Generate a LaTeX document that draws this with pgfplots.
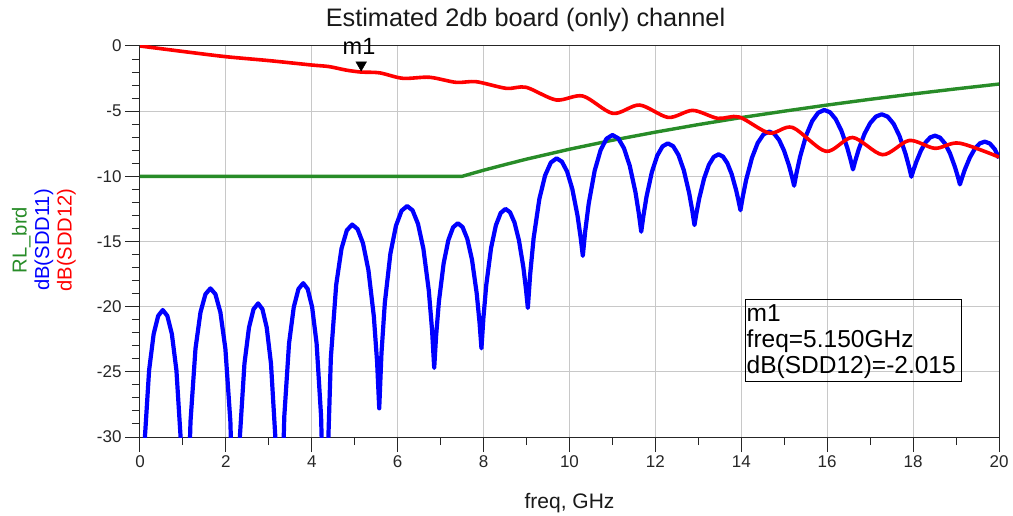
\documentclass[border=0pt]{standalone}
\usepackage{fontspec}
\setmainfont{Liberation Sans}
\usepackage{pgfplots}
\pgfplotsset{compat=1.18}
\definecolor{adsgreen}{RGB}{40,140,40}
\definecolor{gridgray}{RGB}{200,200,200}
\begin{document}
\begin{tikzpicture}
\path[use as bounding box] (-140pt,-78pt) rectangle (873pt,437pt);
\begin{axis}[
  at={(0pt,0pt)}, anchor=south west,
  scale only axis, width=859pt, height=391pt,
  xmin=0, xmax=20, ymin=-30, ymax=0,
  xtick={0,2,...,20}, ytick={-30,-25,...,0},
  minor x tick num=1, minor y tick num=4,
  tick pos=left, tick align=outside,
  major tick length=15pt, minor tick length=8pt,
  grid=major, major grid style={gridgray, line width=1pt},
  axis line style={line width=1pt, black!85},
  every tick/.style={black!85, line width=1pt},
  ticklabel style={font=\fontsize{17}{17}\selectfont, text=black!85},
  /pgf/number format/assume math mode=true,
]
\addplot[adsgreen, line width=3.4pt] coordinates {
(0,-10) (7.5,-10) (8,-9.53) (8.5,-9.10) (9,-8.68) (10,-7.92) (11,-7.23) (12,-6.61) (13,-6.03) (14,-5.49) (15,-5.0) (16,-4.53) (17,-4.09) (18,-3.68) (19,-3.29) (20,-2.92)};
\addplot[blue, line width=4.2pt, line join=round] coordinates {
(0,-45) (0.042,-38.3) (0.106,-30.46) (0.212,-24.88) (0.318,-22.10) (0.424,-20.70) (0.53,-20.26) (0.636,-20.70) (0.742,-22.10) (0.848,-24.88) (0.954,-30.46) (1.018,-38.3) (1.06,-45)
(1.106,-36.64) (1.176,-28.8) (1.292,-23.22) (1.408,-20.44) (1.524,-19.04) (1.64,-18.6) (1.756,-19.04) (1.872,-20.44) (1.988,-23.22) (2.104,-28.8) (2.174,-36.64) (2.22,-45)
(2.262,-37.79) (2.326,-29.95) (2.432,-24.37) (2.538,-21.59) (2.644,-20.19) (2.75,-19.75) (2.85,-20.19) (2.95,-21.59) (3.05,-24.37) (3.15,-29.95) (3.21,-37.79) (3.25,-45)
(3.294,-36.24) (3.36,-28.4) (3.47,-22.82) (3.58,-20.04) (3.69,-18.64) (3.80,-18.2) (3.904,-18.64) (4.008,-20.04) (4.112,-22.82) (4.216,-28.4) (4.278,-36.24) (4.32,-45)
(4.37,-31.74) (4.444,-23.9) (4.568,-18.32) (4.692,-15.54) (4.816,-14.14) (4.94,-13.7) (5.066,-14.05) (5.192,-15.14) (5.318,-17.19) (5.444,-20.73) (5.52,-24.22) (5.57,-27.8)
(5.622,-23.59) (5.70,-19.72) (5.83,-15.93) (5.96,-13.79) (6.09,-12.64) (6.22,-12.28) (6.346,-12.61) (6.472,-13.64) (6.598,-15.55) (6.724,-18.76) (6.80,-21.79) (6.85,-24.7)
(6.894,-22.26) (6.96,-19.59) (7.07,-16.67) (7.18,-14.89) (7.29,-13.91) (7.40,-13.6) (7.51,-13.89) (7.62,-14.79) (7.73,-16.40) (7.84,-18.99) (7.906,-21.24) (7.95,-23.2)
(7.995,-20.89) (8.062,-18.34) (8.174,-15.50) (8.286,-13.76) (8.398,-12.81) (8.51,-12.5) (8.614,-12.75) (8.718,-13.53) (8.822,-14.89) (8.926,-16.98) (8.988,-18.70) (9.03,-20.1)
(9.084,-17.53) (9.164,-14.76) (9.298,-11.74) (9.432,-9.93) (9.566,-8.94) (9.70,-8.62) (9.822,-8.87) (9.944,-9.63) (10.066,-10.98) (10.188,-13.04) (10.261,-14.73) (10.31,-16.1)
(10.365,-14.24) (10.448,-12.08) (10.586,-9.57) (10.724,-7.99) (10.862,-7.11) (11.0,-6.83) (11.134,-7.08) (11.268,-7.84) (11.402,-9.18) (11.536,-11.22) (11.616,-12.89) (11.67,-14.25)
(11.72,-13.05) (11.794,-11.55) (11.918,-9.67) (12.042,-8.42) (12.166,-7.70) (12.29,-7.47) (12.414,-7.69) (12.538,-8.37) (12.662,-9.54) (12.786,-11.28) (12.86,-12.66) (12.91,-13.74)
(12.955,-12.84) (13.022,-11.67) (13.134,-10.16) (13.246,-9.12) (13.358,-8.51) (13.47,-8.31) (13.572,-8.48) (13.674,-8.98) (13.776,-9.83) (13.878,-11.04) (13.939,-11.93) (13.98,-12.6)
(14.034,-11.57) (14.114,-10.26) (14.248,-8.58) (14.382,-7.44) (14.516,-6.78) (14.65,-6.57) (14.766,-6.73) (14.882,-7.22) (14.998,-8.05) (15.114,-9.21) (15.184,-10.08) (15.23,-10.72)
(15.286,-9.74) (15.37,-8.48) (15.51,-6.86) (15.65,-5.76) (15.79,-5.12) (15.93,-4.91) (16.064,-5.08) (16.198,-5.61) (16.332,-6.51) (16.466,-7.79) (16.546,-8.75) (16.6,-9.47)
(16.654,-8.81) (16.734,-7.93) (16.868,-6.74) (17.002,-5.91) (17.136,-5.41) (17.27,-5.24) (17.408,-5.42) (17.546,-5.97) (17.684,-6.91) (17.822,-8.25) (17.905,-9.27) (17.96,-10.03)
(18.004,-9.57) (18.07,-8.93) (18.18,-8.04) (18.29,-7.40) (18.40,-7.01) (18.51,-6.88) (18.626,-7.03) (18.742,-7.48) (18.858,-8.23) (18.974,-9.28) (19.044,-10.05) (19.09,-10.62)
(19.136,-10.14) (19.206,-9.47) (19.322,-8.55) (19.438,-7.88) (19.554,-7.47) (19.67,-7.34) (19.786,-7.48) (19.902,-7.92) (20,-8.6)};
\addplot[red, line width=3.6pt, smooth] coordinates {
(0,0) (1,-0.42) (2,-0.82) (3,-1.12) (4,-1.46) (4.4,-1.58) (4.8,-1.85) (5.15,-2.0) (5.58,-2.06) (6.12,-2.48) (6.74,-2.40) (7.36,-2.79) (7.83,-2.74) (8.53,-3.25) (8.99,-3.17) (9.69,-4.14) (10.31,-3.84) (11.01,-5.17) (11.63,-4.53) (12.3,-5.48) (12.87,-4.94) (13.45,-5.55) (13.95,-5.45) (14.65,-6.68) (15.19,-6.25) (15.97,-8.08) (16.59,-7.02) (17.29,-8.34) (17.91,-7.25) (18.51,-7.85) (19.07,-7.45) (20,-8.52)};
\addplot[only marks, mark=triangle*, mark size=6.2pt, mark options={rotate=180, black, yshift=-7.4pt}] coordinates {(5.15,-2.015)};
\end{axis}
\node[anchor=base, font=\fontsize{25.3}{25.3}\selectfont, text=black!90] at (385.5pt,410pt) {Estimated 2db board (only) channel};
\node[anchor=base, font=\fontsize{23.5}{23.5}\selectfont, inner sep=0pt] at (219pt,382pt) {m1};
\node[anchor=base, font=\fontsize{21}{21}\selectfont, text=black!90] at (429.5pt,-71.5pt) {freq, GHz};
\node[rotate=90, align=center, font=\fontsize{20.2}{22.5}\selectfont] at (-96pt,197pt)
  {\textcolor{adsgreen}{RL\_brd}\\\textcolor{blue}{dB(SDD11)}\\\textcolor{red}{dB(SDD12)}};
\draw[line width=1pt, black] (605pt,56pt) rectangle (821.7pt,137.7pt);
\begin{scope}[every node/.style={anchor=base west, inner sep=0pt, font=\fontsize{24.5}{24.5}\selectfont}]
\node at (606.5pt,116pt) {m1};
\node at (606.5pt,90pt) {freq=5.150GHz};
\node at (606.5pt,64pt) {dB(SDD12)=-2.015};
\end{scope}
\end{tikzpicture}
\end{document}
